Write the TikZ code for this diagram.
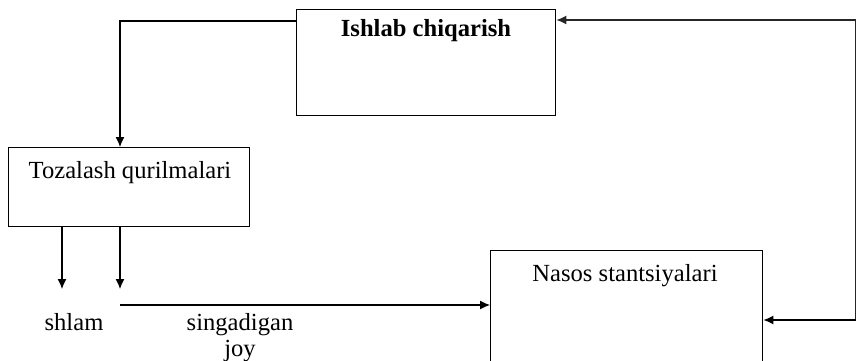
\documentclass[tikz,border=0pt]{standalone}
\usepackage{fontspec}
\setmainfont{Liberation Serif}
\usetikzlibrary{arrows.meta}
\begin{document}
\begin{tikzpicture}[x=1pt,y=-1pt,
  box/.style={draw,line width=1.4pt,anchor=north west,inner sep=0pt},
  lbl/.style={font=\fontsize{24.6}{29}\selectfont,inner sep=0pt},
  con/.style={line width=1.2pt,-{Latex[length=10pt,width=9pt]}},
  plain/.style={line width=1.2pt}]
\clip (0,0) rectangle (857,361);
\fill[white] (0,0) rectangle (857,361);
% boxes
\node[box,minimum width=259pt,minimum height=106pt] (ish) at (296,9) {};
\node[box,minimum width=241pt,minimum height=79pt] (toz) at (8,147) {};
\node[box,minimum width=272pt,minimum height=140pt] (nas) at (490,250) {};
% box labels
\node[lbl,font=\fontsize{24.6}{29}\selectfont\bfseries,anchor=base] (ishT) at (426,37) {Ishlab chiqarish};
\node[lbl,anchor=base] (tozT) at (130,178) {Tozalash qurilmalari};
\node[lbl,anchor=base] (nasT) at (625,281) {Nasos stantsiyalari};
% free labels
\node[lbl,anchor=base] (shlam) at (74,330) {shlam};
\node[lbl,anchor=base] (sing) at (240,330) {singadigan};
\node[lbl,anchor=base] (joy) at (240,356) {joy};
% coordinates
\coordinate (c1) at (120,21);
\coordinate (c2) at (855.5,20);
\coordinate (c3) at (855.5,320);
\coordinate (d1) at (62,289);
\coordinate (d2) at (120,289);
\coordinate (h1) at (120,305);
% connectors
\draw[con] (ish.west |- c1) -- (c1) -- (toz.north -| c1);
\draw[con,draw=black!85] (c3) -- (c2) -- (ish.east |- c2);
\draw[con] (c3) -- (nas.east |- c3);
\draw[con] (toz.south -| d1) -- (d1);
\draw[con] (toz.south -| d2) -- (d2);
\draw[con] (h1) -- (nas.west |- h1);
\end{tikzpicture}
\end{document}
